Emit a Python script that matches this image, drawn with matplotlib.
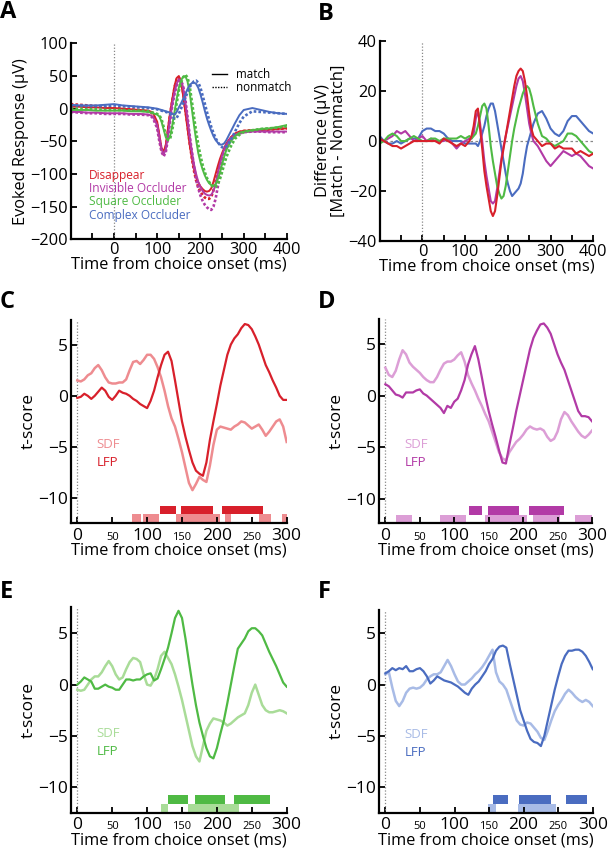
import matplotlib
matplotlib.use("Agg")
import matplotlib.pyplot as plt
from matplotlib.lines import Line2D

plt.rcParams['font.family'] = ['Open Sans', 'DejaVu Sans']

# ---------------- panel A: evoked responses ----------------
tA = [-100, -80, -60, -40, -20, 0, 20, 40, 60, 80, 90, 100, 105, 110, 115, 120, 125, 130,
      135, 140, 145, 150, 155, 160, 165, 170, 175, 180, 185, 190, 195, 200, 205, 210, 215,
      220, 225, 230, 235, 240, 245, 250, 255, 260, 270, 280, 290, 300, 320, 340, 360, 380, 400]

red_match = [3, 3, 2, 2, 1, 1, 0, -1, -2, -3, -6, -20, -40, -60, -66, -55, -30, -5,
             15, 35, 47, 50, 40, 20, -5, -30, -55, -75, -92, -105, -113, -119, -123, -126, -127,
             -126, -122, -112, -100, -88, -77, -68, -60, -53, -44, -38, -35, -34, -33, -33, -32, -31, -30]
red_non = [7, 6, 5, 4, 2, 1, 0, -1, -2, -4, -8, -25, -45, -63, -70, -60, -35, -8,
           12, 32, 45, 48, 42, 25, 0, -25, -52, -75, -95, -110, -120, -127, -132, -136, -138,
           -138, -135, -125, -112, -98, -85, -74, -64, -56, -45, -39, -36, -34, -33, -33, -32, -31, -30]
mag_match = [-5, -5, -6, -6, -7, -7, -7, -8, -8, -9, -12, -25, -45, -62, -70, -62, -40, -15,
             8, 25, 38, 45, 44, 32, 10, -15, -42, -65, -85, -100, -112, -120, -126, -130, -132,
             -133, -132, -126, -115, -100, -85, -72, -62, -55, -45, -40, -37, -36, -35, -35, -35, -35, -35]
mag_non = [-5, -6, -7, -7, -8, -8, -8, -9, -9, -10, -14, -30, -50, -66, -73, -66, -45, -18,
           5, 22, 35, 42, 43, 35, 15, -12, -40, -65, -88, -108, -122, -133, -141, -147, -151,
           -154, -155, -150, -138, -120, -100, -83, -70, -60, -48, -41, -38, -36, -35, -35, -36, -36, -36]
grn_match = [-2, -2, -2, -3, -3, -3, -3, -4, -4, -5, -7, -9, -12, -20, -32, -44, -48, -42,
             -25, -5, 15, 32, 43, 49, 50, 42, 25, 0, -25, -48, -68, -82, -93, -102, -109,
             -114, -117, -118, -116, -108, -98, -85, -73, -63, -50, -42, -37, -35, -33, -31, -30, -28, -25]
grn_non = [0, 0, -1, -1, -2, -2, -2, -3, -3, -4, -6, -8, -10, -16, -28, -40, -48, -46,
           -32, -12, 8, 27, 40, 48, 52, 48, 35, 12, -12, -35, -55, -72, -86, -97, -106,
           -112, -117, -120, -120, -116, -108, -97, -85, -74, -58, -46, -40, -36, -33, -31, -30, -29, -27]
blu_match = [6, 5, 5, 5, 6, 7, 5, 4, 3, 2, 1, 0, -1, -2, -3, -4, -5, -6,
             -8, -9, -5, 2, 8, 15, 22, 30, 36, 39, 40, 38, 32, 22, 10, -3, -15,
             -25, -34, -42, -48, -52, -55, -55, -53, -48, -35, -22, -10, -2, 1, -2, -5, -7, -8]
blu_non = [5, 5, 4, 4, 4, 5, 4, 3, 2, 1, 0, -1, -2, -3, -4, -5, -6, -8,
           -12, -15, -14, -8, 0, 8, 16, 25, 33, 38, 42, 43, 40, 32, 20, 8, -5,
           -17, -28, -37, -45, -51, -56, -59, -60, -58, -48, -35, -22, -12, -4, -5, -6, -7, -8]

# ---------------- panel B: match - nonmatch difference ----------------
tB = [-100, -90, -80, -70, -60, -50, -40, -30, -20, -10, 0, 10, 20, 30, 40, 50, 60, 70, 80, 90,
      100, 110, 115, 120, 125, 130, 135, 140, 145, 150, 155, 160, 165, 170, 175, 180, 185, 190,
      195, 200, 205, 210, 215, 220, 225, 230, 235, 240, 245, 250, 255, 260, 270, 280, 290, 300,
      310, 320, 330, 340, 350, 360, 370, 380, 390, 400]
red_diff = [1, 0, -1, -2, -2, -3, -2, -1, 0, 0, 0, 0, 0, 0, -1, 1, 0, -1, -2, -1,
            -2, 0, 2, 6, 12, 13, 5, -3, -12, -18, -23, -28, -30, -28, -22, -15, -8, -3,
            2, 7, 12, 17, 22, 26, 28, 29, 28, 24, 18, 11, 5, 2, 0, -2, -1, -1,
            -3, -2, -3, -3, -3, -5, -4, -5, -6, -5]
mag_diff = [0, 0, 1, 2, 4, 3, 4, 2, 0, 1, 2, 0, 1, 0, 0, 0, 1, -1, -3, -1,
            0, 1, 1, 3, 9, 12, 7, 0, -8, -14, -19, -24, -25, -24, -19, -13, -7, -2,
            2, 6, 10, 14, 18, 22, 25, 26, 24, 19, 13, 7, 3, 0, -2, -5, -8, -10,
            -8, -6, -4, -5, -6, -5, -6, -8, -10, -11]
grn_diff = [-1, 0, 2, 3, 2, 0, 0, 1, 2, 1, 0, 0, 1, 1, 0, 1, 1, 1, 1, 2,
            1, 2, 1, 2, 3, 6, 10, 14, 15, 13, 6, -2, -8, -13, -18, -21, -23, -22,
            -18, -12, -6, 0, 5, 9, 13, 16, 19, 21, 22, 21, 18, 14, 7, 2, 1, -1,
            -2, -1, 0, 3, 3, 2, 0, -2, -4, -5]
blu_diff = [2, 0, -1, -1, 0, -1, 0, 1, 1, 1, 4, 5, 5, 4, 4, 3, 1, 0, 0, 0,
            -1, -1, -1, -1, -1, -2, 0, 3, 6, 10, 13, 15, 15, 12, 7, 2, -3, -8,
            -13, -17, -20, -22, -21, -20, -19, -17, -13, -7, -2, 1, 4, 7, 11, 12, 9, 5,
            3, 2, 4, 8, 10, 10, 8, 6, 4, 3]

# ---------------- panels C-F: t-scores ----------------
tT = list(range(0, 301, 5))
sdf_C = [1.5, 1.4, 1.6, 2.0, 2.2, 2.7, 3.0, 2.5, 1.8, 1.3, 1.2, 1.2, 1.3, 1.3, 1.6, 2.5, 3.3, 3.4, 3.1, 3.5,
         4.0, 4.0, 3.6, 2.8, 1.8, 0.5, -1.0, -2.2, -3.0, -4.2, -5.5, -7.0, -8.5, -9.2, -8.6, -7.9, -8.2, -8.4,
         -6.8, -4.8, -3.3, -3.0, -3.1, -3.2, -3.3, -3.0, -2.8, -2.5, -2.6, -2.9, -3.2, -3.0, -2.8, -3.3, -3.9,
         -3.5, -3.0, -2.5, -2.3, -3.0, -4.5]
lfp_C = [-0.2, -0.1, 0.2, 0.0, -0.3, 0.0, 0.4, 0.8, 0.5, -0.1, -0.4, 0.0, 0.5, 0.3, 0.2, 0.0, -0.3, -0.5, -0.8, -1.0,
         -1.2, -0.5, 0.5, 1.8, 3.0, 4.0, 4.3, 3.4, 1.5, -0.5, -2.5, -4.0, -5.3, -6.5, -7.3, -7.6, -7.8, -6.5,
         -4.3, -2.5, -0.8, 1.0, 2.5, 4.0, 5.0, 5.6, 6.0, 6.6, 7.0, 6.9, 6.5, 5.8, 5.0, 4.0, 3.0,
         2.3, 1.5, 0.8, 0.0, -0.4, -0.4]
sdf_D = [2.7, 2.0, 1.8, 2.4, 3.5, 4.4, 4.0, 3.2, 2.8, 2.5, 2.2, 1.8, 1.5, 1.3, 1.3, 1.8, 2.5, 3.1, 3.3, 3.3,
         3.5, 3.9, 4.2, 3.3, 2.0, 1.2, 0.5, -0.3, -1.0, -1.8, -2.5, -3.5, -4.5, -5.5, -6.1, -6.3, -5.5, -5.0,
         -4.5, -4.2, -3.8, -3.3, -3.0, -3.2, -3.3, -3.2, -3.4, -4.0, -4.4, -4.2, -3.5, -2.3, -1.6, -1.9, -2.5,
         -3.0, -3.5, -3.9, -4.1, -3.8, -3.4]
lfp_D = [1.1, 0.9, 0.5, 0.1, 0.0, -0.2, 0.3, 0.3, 0.3, 0.5, 0.6, 0.2, 0.0, -0.3, -0.6, -0.9, -1.2, -1.7, -1.0, -1.2,
         -0.6, -0.3, 0.5, 1.5, 3.0, 4.0, 4.8, 3.5, 1.8, 0.0, -1.5, -2.8, -4.0, -5.3, -6.5, -6.6, -4.8, -3.2,
         -1.5, 0.0, 1.5, 3.0, 4.5, 5.6, 6.3, 6.9, 7.0, 6.6, 6.0, 5.0, 4.0, 3.2, 2.5, 1.5, 0.5,
         -0.5, -1.5, -2.0, -2.0, -2.1, -2.5]
sdf_E = [-0.5, -0.6, -0.5, 0.0, 0.5, 0.8, 0.8, 1.2, 1.8, 2.3, 1.8, 1.0, 0.5, 0.7, 1.5, 2.2, 2.6, 2.5, 2.2, 1.0,
         0.0, -0.1, 0.5, 1.5, 2.8, 3.2, 2.6, 2.0, 1.0, -0.2, -1.5, -3.0, -4.5, -6.0, -7.0, -7.5, -6.0, -4.5,
         -3.8, -3.3, -3.4, -3.5, -3.7, -4.0, -3.8, -3.5, -3.2, -3.0, -2.8, -2.0, -0.8, 0.0, -1.0, -2.0, -2.5,
         -2.7, -2.7, -2.6, -2.5, -2.6, -2.8]
lfp_E = [0.0, 0.3, 0.7, 0.5, 0.3, -0.4, -0.4, -0.2, 0.0, -0.2, -0.3, -0.5, -0.5, 0.0, 0.5, 0.5, 0.4, 0.5, 0.5, 0.8,
         1.0, 1.1, 0.4, 0.6, 1.5, 2.5, 3.6, 5.0, 6.5, 7.2, 6.5, 4.5, 2.2, 0.0, -2.0, -3.7, -5.0, -6.2,
         -7.0, -7.2, -6.2, -4.8, -3.5, -1.8, 0.0, 1.8, 3.5, 4.0, 4.5, 5.2, 5.5, 5.5, 5.2, 4.8, 4.0,
         3.2, 2.5, 1.8, 1.0, 0.2, -0.2]
sdf_F = [1.0, 1.2, -0.3, -1.6, -2.1, -1.6, -0.8, -0.4, -0.3, -0.4, -0.3, 0.0, 0.5, 0.8, 1.0, 1.0, 1.2, 1.8, 2.4, 1.8,
         1.0, 0.3, 0.0, 0.0, 0.3, 0.6, 1.0, 1.3, 1.7, 2.2, 2.8, 3.4, 1.2, 0.3, 0.0, -0.5, -1.5, -2.5,
         -3.5, -3.9, -4.0, -3.7, -3.8, -4.2, -4.6, -5.2, -5.4, -4.5, -3.5, -2.6, -2.0, -1.5, -0.9, -0.5, -0.8,
         -1.2, -1.5, -1.7, -1.5, -1.7, -2.1]
lfp_F = [1.1, 1.3, 1.6, 1.4, 1.6, 1.5, 1.8, 1.3, 1.3, 1.5, 1.6, 1.3, 0.8, 0.1, 0.4, 0.8, 0.6, 0.4, 0.3, 0.2,
         0.0, -0.2, -0.5, -0.8, -1.0, -0.4, 0.0, 0.3, 0.8, 1.3, 2.0, 2.5, 3.3, 3.7, 3.8, 3.6, 2.0, 0.5,
         -1.0, -2.5, -3.5, -4.5, -5.3, -5.6, -5.7, -6.0, -5.0, -3.5, -2.0, -0.5, 0.8, 2.0, 2.8, 3.3, 3.3,
         3.4, 3.4, 3.2, 2.8, 2.2, 1.5]

# significant epochs (ms): LFP row on top, SDF row below
lfp_sig_C = [(118, 141), (149, 195), (207, 266)]
sdf_sig_C = [(79, 91), (94, 117), (142, 204), (212, 220), (261, 277), (293, 300)]
lfp_sig_D = [(122, 140), (149, 194), (209, 259)]
sdf_sig_D = [(15, 39), (80, 117), (144, 206), (214, 253), (276, 300)]
lfp_sig_E = [(130, 159), (168, 211), (224, 276)]
sdf_sig_E = [(120, 130), (158, 231)]
lfp_sig_F = [(155, 178), (194, 240), (261, 291)]
sdf_sig_F = [(149, 160), (192, 247)]

conditions = ['Disappear', 'Invisible Occluder', 'Square Occluder', 'Complex Occluder']
dark = ['#d8202b', '#b23aa6', '#4fba44', '#4a6cc0']
light = ['#ee8c90', '#dc9ed6', '#a9dc98', '#a8bbe6']

fig = plt.figure(figsize=(6.12, 8.52), dpi=100)


def style_axes(ax, fs):
    for s in ['top', 'right']:
        ax.spines[s].set_visible(False)
    for s in ['left', 'bottom']:
        ax.spines[s].set_linewidth(1.6)
    ax.tick_params(direction='in', length=4, width=1.3, labelsize=fs, pad=2)


# ---- A ----
axA = fig.add_axes([0.1155, 0.7191, 0.3534, 0.2300])
style_axes(axA, 11.8)
axA.axvline(0, color='#888888', ls=(0, (1, 1.5)), lw=0.9)
pairs = [(red_match, red_non), (mag_match, mag_non), (grn_match, grn_non), (blu_match, blu_non)]
for (m, n), c in zip(pairs, dark):
    axA.plot(tA, n, color=c, lw=1.9, ls=(0, (1, 0.8)))
    axA.plot(tA, m, color=c, lw=1.4)
axA.set_xlim(-100, 400)
axA.set_ylim(-200, 100)
axA.set_xticks(range(-50, 401, 50))
axA.set_xticklabels(['' if v % 100 else str(v) for v in range(-50, 401, 50)])
axA.set_yticks(range(-200, 101, 50))
axA.set_xlabel('Time from choice onset (ms)', fontsize=11.8, labelpad=-1)
axA.set_ylabel('Evoked Response (µV)', fontsize=11.8, labelpad=1)
for i, (lab, c) in enumerate(zip(conditions, dark)):
    axA.text(0.085, 0.328 - i * 0.068, lab, color=c, fontsize=8.6, transform=axA.transAxes,
             va='center')
handles = [Line2D([], [], color='k', lw=1.0), Line2D([], [], color='k', lw=1.0, ls=(0, (1, 1)))]
axA.legend(handles, ['match', 'nonmatch'], loc='upper right', frameon=False, fontsize=8.4,
           handlelength=1.3, handletextpad=0.7, labelspacing=0.05, borderaxespad=0.0,
           bbox_to_anchor=(1.04, 0.9))

# ---- B ----
axB = fig.add_axes([0.6204, 0.7171, 0.349, 0.2347])
style_axes(axB, 11.8)
axB.axvline(0, color='#888888', ls=(0, (1, 1.5)), lw=0.9)
axB.axhline(0, color='#888888', ls=(0, (2, 2)), lw=0.9)
for d, c in zip([blu_diff, mag_diff, grn_diff, red_diff], [dark[3], dark[1], dark[2], dark[0]]):
    axB.plot(tB, d, color=c, lw=1.5)
axB.set_xlim(-100, 400)
axB.set_ylim(-40, 40)
axB.set_xticks(range(-50, 401, 50))
axB.set_xticklabels(['' if v % 100 else str(v) for v in range(-50, 401, 50)])
axB.set_yticks(range(-40, 41, 20))
axB.set_xlabel('Time from choice onset (ms)', fontsize=11.8, labelpad=-1)
axB.set_ylabel('Difference (µV)\n[Match - Nonmatch]', fontsize=11.8, labelpad=1,
               linespacing=1.0)

# ---- C-F ----
tpanels = [
    ([0.1155, 0.3862, 0.3529, 0.2383], (-9.5, 300), (-12.4, 7.4), sdf_C, lfp_C, sdf_sig_C, lfp_sig_C, 0),
    ([0.6188, 0.3858, 0.3485, 0.2394], (-9.7, 300), (-12.4, 7.4), sdf_D, lfp_D, sdf_sig_D, lfp_sig_D, 1),
    ([0.1155, 0.0461, 0.3529, 0.2418], (-9.5, 300), (-12.5, 7.6), sdf_E, lfp_E, sdf_sig_E, lfp_sig_E, 2),
    ([0.6188, 0.0461, 0.3497, 0.2383], (-9.7, 300), (-12.5, 7.3), sdf_F, lfp_F, sdf_sig_F, lfp_sig_F, 3),
]
for rect, xl, yl, sdf, lfp, ssig, lsig, k in tpanels:
    ax = fig.add_axes(rect)
    style_axes(ax, 12.5)
    ax.axvline(0, color='#888888', ls=(0, (1, 1.5)), lw=0.9)
    ax.plot(tT, sdf, color=light[k], lw=1.8)
    ax.plot(tT, lfp, color=dark[k], lw=1.6)
    ax.set_xlim(*xl)
    ax.set_ylim(*yl)
    lo = yl[0]
    ax.broken_barh([(a, b - a) for a, b in ssig], (lo + 0.1, 0.75), facecolors=light[k])
    ax.broken_barh([(a, b - a) for a, b in lsig], (lo + 0.85, 0.85), facecolors=dark[k])
    ax.set_yticks([-10, -5, 0, 5])
    xt = list(range(0, 301, 50))
    ax.set_xticks(xt)
    ax.set_xticklabels([str(v) for v in xt])
    ax.tick_params(axis='x', pad=12)
    for v, lab in zip(xt, ax.get_xticklabels()):
        lab.set_va('baseline')
        lab.set_fontsize(12.5 if v % 100 == 0 else 8)
    ax.set_xlabel('Time from choice onset (ms)', fontsize=11.8, labelpad=-1)
    ax.set_ylabel('t-score', fontsize=12.5, labelpad=1)
    ax.text(0.12, 0.385, 'SDF', color=light[k], fontsize=9.5, transform=ax.transAxes,
            va='center')
    ax.text(0.12, 0.297, 'LFP', color=dark[k], fontsize=9.5, transform=ax.transAxes,
            va='center')

for lab, x, y in [('A', 0.0, 0.986), ('B', 0.52, 0.983), ('C', 0.0, 0.645),
                  ('D', 0.52, 0.645), ('E', 0.0, 0.305), ('F', 0.52, 0.305)]:
    fig.text(x, y, lab, fontsize=17, fontweight='bold', va='center')

fig.savefig('out.png', dpi=100)
